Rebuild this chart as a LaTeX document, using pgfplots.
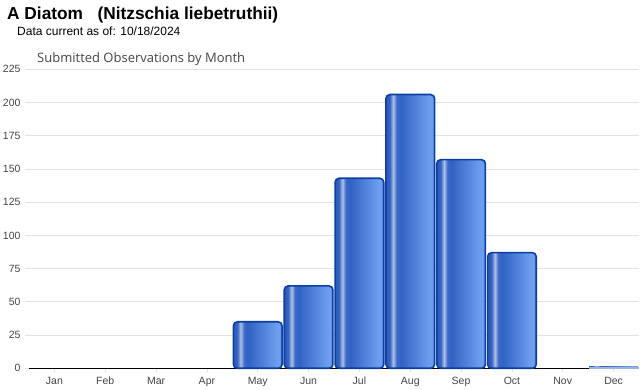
\documentclass[border=0pt]{standalone}
\usepackage{pgfplots}
\pgfplotsset{compat=1.18}
\usepackage{fontspec}
\setmainfont{Liberation Sans}
\newfontfamily\subfont{Open Sans}
\definecolor{barborder}{HTML}{0C3FA3}
\definecolor{gridc}{HTML}{E2E2E2}
\definecolor{labc}{HTML}{444444}
\definecolor{sa}{HTML}{2A58B8}
\definecolor{sb}{HTML}{3764C2}
\definecolor{sc}{HTML}{AEC2E4}
\definecolor{sd}{HTML}{3C69C8}
\definecolor{se}{HTML}{3062C4}
\definecolor{sf}{HTML}{6A9BEC}
\definecolor{sg}{HTML}{6FA0F0}
\definecolor{sh}{HTML}{4A7AD8}
\pgfdeclarehorizontalshading{barshade}{100bp}{color(0bp)=(sa); color(25bp)=(sa); color(29bp)=(sb); color(32.5bp)=(sc); color(36bp)=(sd); color(40bp)=(se); color(68bp)=(sf); color(72bp)=(sg); color(75bp)=(sh); color(100bp)=(sh)}
\pgfplotsset{obsbar/.style={ybar, bar shift=0pt, bar width=48.7pt, draw=barborder, line width=1.6pt, shading=barshade, rounded corners=4pt}}
\begin{document}
\begin{tikzpicture}
\path[use as bounding box] (0pt,0pt) rectangle (640pt,390pt);
\node[anchor=base west, inner sep=0pt, font=\fontsize{17.3}{19}\selectfont\bfseries] at (7pt,370pt) {A Diatom\ \ \ (Nitzschia liebetruthii)};
\node[anchor=base west, inner sep=0pt, font=\fontsize{12}{14}\selectfont] at (17pt,354pt) {Data current as of: 10/18/2024};
\node[anchor=base west, inner sep=0pt, text=labc, font=\subfont\fontsize{13}{15}\selectfont] at (37pt,327pt) {Submitted Observations by Month};
\begin{axis}[
  at={(29pt,21.7pt)}, anchor=south west,
  scale only axis, width=610pt, height=299pt,
  xmin=-0.5, xmax=11.5, ymin=0, ymax=225,
  axis x line*=bottom, axis y line*=left,
  x axis line style={black, line width=1.4pt},
  y axis line style={draw=none},
  xtick={0,...,11},
  xticklabels={Jan,Feb,Mar,Apr,May,Jun,Jul,Aug,Sep,Oct,Nov,Dec},
  ytick={0,25,...,225},
  ymajorgrids, grid style={gridc, line width=0.8pt},
  tick align=outside, major tick length=4pt,
  ytick style={gridc, line width=0.8pt},
  xtick style={gridc, line width=0.8pt},
  tick label style={text=labc, font=\fontsize{10.5}{12}\selectfont},
  /pgf/number format/assume math mode=true,
  yticklabel style={xshift=-1pt},
  xticklabel style={yshift=-1pt},
  clip=false,
]
% Jan-Apr and Nov: 0 observations
\addplot[obsbar] coordinates {(4,35)};   % May
\addplot[obsbar] coordinates {(5,62)};   % Jun
\addplot[obsbar] coordinates {(6,143)};  % Jul
\addplot[obsbar] coordinates {(7,206)};  % Aug
\addplot[obsbar] coordinates {(8,157)};  % Sep
\addplot[obsbar] coordinates {(9,87)};   % Oct
\addplot[obsbar, rounded corners=0pt, line width=0.8pt, draw=barborder!40] coordinates {(11,1)};   % Dec
\end{axis}
\end{tikzpicture}
\end{document}
